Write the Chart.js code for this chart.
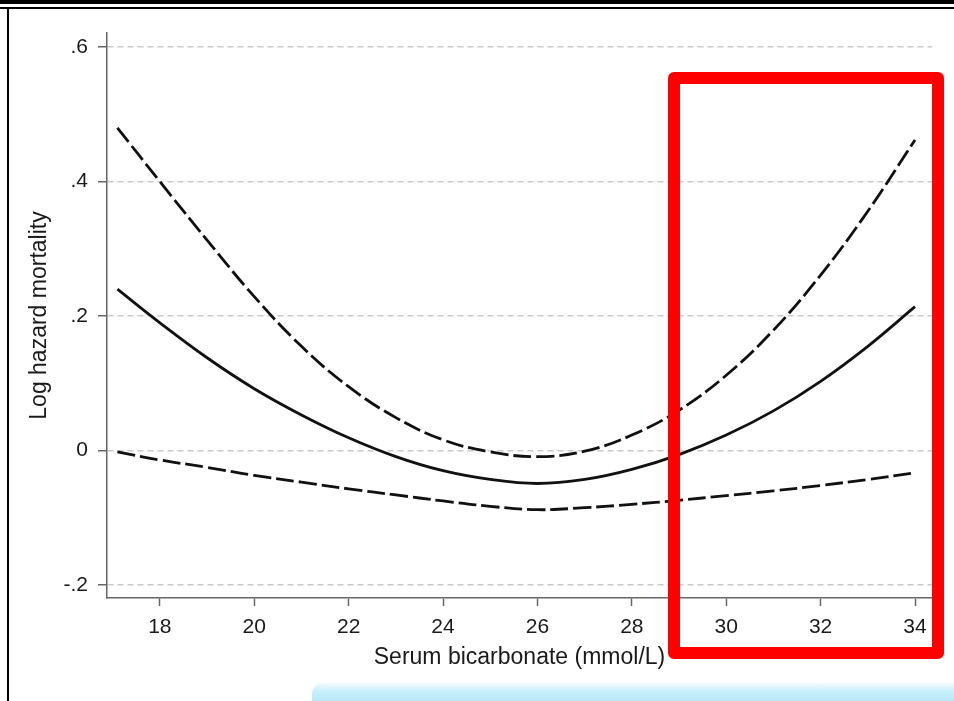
<!DOCTYPE html>
<html>
<head>
<meta charset="utf-8">
<script src="https://cdn.jsdelivr.net/npm/chart.js@4.4.1/dist/chart.umd.min.js"></script>
<style>
  body { margin: 0; background: #fff; }
  #wrap { position: relative; width: 954px; height: 701px; overflow: hidden; }
  #myChart { position: absolute; left: 0; top: 0; }
  .rule { position: absolute; background: #000; }
  #box {
    position: absolute; left: 668px; top: 72px; width: 276px; height: 587px;
    border: 12px solid #ff0000; border-radius: 6px; box-sizing: border-box;
  }
  #band {
    position: absolute; left: 312px; top: 681px; width: 660px; height: 30px;
    border-top-left-radius: 14px;
    background: linear-gradient(to bottom, #ffffff 0%, #c6effa 35%, #a9e4f5 100%);
  }
</style>
</head>
<body>
<div id="wrap">
  <canvas id="myChart" width="954" height="701"></canvas>
  <div class="rule" style="left:0;top:0;width:954px;height:4px"></div>
  <div class="rule" style="left:0;top:7px;width:954px;height:2px"></div>
  <div class="rule" style="left:7px;top:7px;width:2px;height:694px"></div>
  <div id="box"></div>
  <div id="band"></div>
</div>
<script>
// serum bicarbonate (mmol/L)
const bicarb = [17.1, 18, 19, 20, 21, 22, 23, 24, 25, 26, 27, 28, 29, 30, 31, 32, 33, 34]
// log hazard estimate and 95% band
const logHazard = [0.240, 0.190, 0.138, 0.092, 0.053, 0.019, -0.009, -0.030, -0.043, -0.049, -0.043, -0.028, -0.006, 0.023, 0.059, 0.103, 0.155, 0.214]
const upperCI = [0.480, 0.400, 0.313, 0.229, 0.155, 0.095, 0.049, 0.016, -0.002, -0.009, -0.001, 0.023, 0.060, 0.112, 0.179, 0.261, 0.356, 0.462]
const lowerCI = [-0.002, -0.014, -0.025, -0.037, -0.047, -0.057, -0.066, -0.075, -0.083, -0.088, -0.085, -0.080, -0.074, -0.067, -0.060, -0.052, -0.043, -0.033]

const xTicks = [18, 20, 22, 24, 26, 28, 30, 32, 34]
const yTicks = [-0.2, 0, 0.2, 0.4, 0.6]
const yTickLabels = ["-.2", "0", ".2", ".4", ".6"]

const axisFont = { family: "'Liberation Sans', Arial, sans-serif", size: 21 }
const titleFont = { family: "'Liberation Sans', Arial, sans-serif", size: 23 }

function toPoints(ys) {
  return bicarb.map((x, i) => ({ x: x, y: ys[i] }))
}

function curve(ys, dash) {
  return {
    data: toPoints(ys),
    borderColor: "#111",
    borderWidth: 2.8,
    borderDash: dash,
    pointRadius: 0,
    tension: 0.4,
    fill: false
  }
}

let ctx = document.getElementById("myChart")
let chart = new Chart(ctx, {
  type: "line",
  data: {
    datasets: [
      curve(upperCI, [18, 5]),
      curve(logHazard, []),
      curve(lowerCI, [18, 5])
    ]
  },
  options: {
    responsive: false,
    animation: false,
    layout: { padding: { top: 33, right: 22, bottom: 0, left: 0 } },
    plugins: {
      legend: { display: false },
      tooltip: { enabled: false }
    },
    scales: {
      x: {
        type: "linear",
        min: 16.88,
        max: 34.36,
        afterFit: (s) => { s.height = 103 },
        afterBuildTicks: (s) => { s.ticks = xTicks.map(v => ({ value: v })) },
        border: { color: "#666", width: 1.5 },
        grid: {
          drawOnChartArea: false,
          drawTicks: true,
          tickLength: 8,
          tickColor: "#666",
          tickWidth: 1.5
        },
        ticks: {
          color: "#1a1a1a",
          font: axisFont,
          padding: 9,
          maxRotation: 0,
          callback: (v) => v
        },
        title: {
          display: true,
          text: "Serum bicarbonate (mmol/L)",
          color: "#1a1a1a",
          font: titleFont,
          padding: { top: 0, bottom: 30 }
        }
      },
      y: {
        type: "linear",
        min: -0.2193,
        max: 0.621,
        afterFit: (s) => { s.width = 107 },
        afterBuildTicks: (s) => { s.ticks = yTicks.map(v => ({ value: v })) },
        // in v4 the grid line dash lives under border
        border: { color: "#666", width: 1.5, dash: [6, 4] },
        grid: {
          color: "#cacaca",
          lineWidth: 1.5,
          tickLength: 9,
          tickColor: "#666",
          tickWidth: 1.5,
          tickBorderDash: []
        },
        ticks: {
          color: "#1a1a1a",
          font: axisFont,
          padding: 10,
          callback: (v) => {
            let i = yTicks.findIndex(t => Math.abs(t - v) < 1e-6)
            return i >= 0 ? yTickLabels[i] : ""
          }
        },
        title: {
          display: true,
          text: "Log hazard mortality",
          color: "#1a1a1a",
          font: titleFont,
          padding: { top: 26, bottom: 0 }
        }
      }
    }
  }
})
</script>
</body>
</html>
